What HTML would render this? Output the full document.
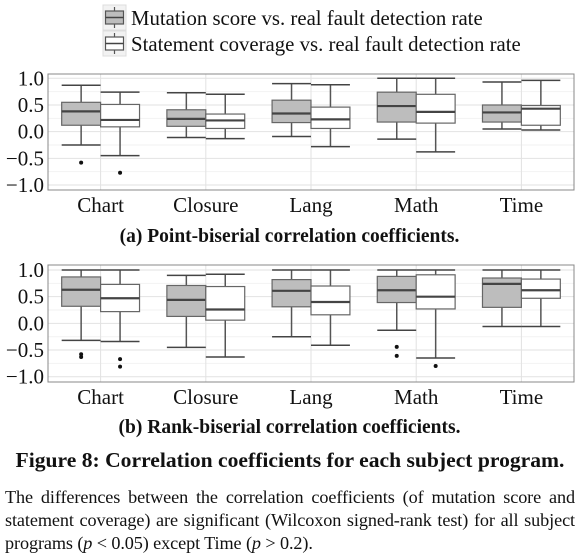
<!DOCTYPE html>
<html><head><meta charset="utf-8"><style>
body{margin:0;width:579px;height:548px;background:#fff;overflow:hidden;font-family:"Liberation Serif",serif;}
svg{position:absolute;left:0;top:0}
.para{position:absolute;left:5px;width:570px;font-size:18.2px;line-height:23px;text-align:justify;text-align-last:left;top:486px;color:#111;letter-spacing:-0.1px}
</style></head><body>
<svg id="chart" width="579" height="548"></svg>
<div class="para">The differences between the correlation coefficients (of mutation score and statement coverage) are significant (Wilcoxon signed-rank test) for all subject programs (<i>p</i> &lt; 0.05) except Time (<i>p</i> &gt; 0.2).</div>
<script>
const categories=["Chart","Closure","Lang","Math","Time"];
const yTicks=[-1,-0.5,0,0.5,1];
const yTickLabels=["\u22121.0","\u22120.5","0.0","0.5","1.0"];
// [lowerWhisker, q1, median, q3, upperWhisker]
const pointMut=[[-0.25,0.12,0.38,0.55,0.87],[-0.11,0.10,0.24,0.41,0.73],[-0.09,0.17,0.34,0.59,0.90],[-0.14,0.18,0.48,0.74,1.0],[0.05,0.18,0.36,0.50,0.93]];
const pointCov=[[-0.45,0.09,0.22,0.51,0.74],[-0.13,0.06,0.21,0.33,0.70],[-0.28,0.06,0.23,0.46,0.88],[-0.38,0.16,0.37,0.70,1.0],[0.03,0.12,0.43,0.49,0.96]];
const pointMutOut=[[-0.58],[],[],[],[]];
const pointCovOut=[[-0.77],[],[],[],[]];
const rankMut=[[-0.32,0.32,0.63,0.87,1.0],[-0.45,0.13,0.44,0.71,0.90],[-0.25,0.31,0.61,0.82,1.0],[-0.13,0.39,0.62,0.88,1.0],[-0.06,0.30,0.74,0.85,1.0]];
const rankCov=[[-0.34,0.22,0.47,0.73,1.0],[-0.63,0.06,0.26,0.69,0.92],[-0.41,0.16,0.40,0.70,1.0],[-0.65,0.27,0.50,0.91,1.0],[-0.06,0.47,0.62,0.83,1.0]];
const rankMutOut=[[-0.58,-0.63],[],[],[-0.44,-0.61],[]];
const rankCovOut=[[-0.67,-0.81],[],[],[-0.80],[]];

const svg=document.getElementById('chart');
const NS='http://www.w3.org/2000/svg';
function mk(tag,attrs,parent){const e=document.createElementNS(NS,tag);for(const k in attrs)e.setAttribute(k,attrs[k]);(parent||svg).appendChild(e);return e;}

function panel(name,top,bottom,y1,ym1,mut,cov,mutOut,covOut,labelY,caption,capY){
  const g=mk('g',{});
  
  
  const L=48,R=574;
  const y=v=>ym1+(v+1)/2*(y1-ym1);
  const bw=(R-L)/categories.length;
  const x=i=>L+bw*(i+0.5);
  [-0.75,-0.25,0.25,0.75].forEach(v=>mk('line',{x1:L,x2:R,y1:y(v),y2:y(v),stroke:'#f2f2f2','stroke-width':1},g));
  yTicks.forEach((v,i)=>{
    const gl=mk('line',{x1:L,x2:R,y1:y(v),y2:y(v),stroke:'#e2e2e2','stroke-width':1},g);
    
    const t=mk('text',{x:L-4,y:y(v)+7,'text-anchor':'end','font-size':21,fill:'#111'},g);
    t.textContent=yTickLabels[i];
    
    
  });
  categories.forEach((c,i)=>{
    mk('line',{x1:x(i),x2:x(i),y1:top,y2:bottom,stroke:'#e2e2e2','stroke-width':1},g);
    const t=mk('text',{x:x(i),y:labelY,'text-anchor':'middle','font-size':21,fill:'#111'},g);
    t.textContent=c;
    
    
  });
  const w=bw*0.37;
  function box(d,outs,cx,fill,nm){
    const b=mk('g',{},g);
    
    
    mk('line',{x1:cx,x2:cx,y1:y(d[0]),y2:y(d[4]),stroke:'#555','stroke-width':1.5},b);
    mk('line',{x1:cx-w/2,x2:cx+w/2,y1:y(d[0]),y2:y(d[0]),stroke:'#444','stroke-width':1.5},b);
    mk('line',{x1:cx-w/2,x2:cx+w/2,y1:y(d[4]),y2:y(d[4]),stroke:'#444','stroke-width':1.5},b);
    mk('rect',{x:cx-w/2,y:y(d[3]),width:w,height:y(d[1])-y(d[3]),fill:fill,stroke:'#666','stroke-width':1.2},b);
    mk('line',{x1:cx-w/2,x2:cx+w/2,y1:y(d[2]),y2:y(d[2]),stroke:'#444','stroke-width':2.2},b);
    outs.forEach(o=>mk('circle',{cx:cx,cy:y(o),r:2,fill:'#111'},b));
  }
  categories.forEach((c,i)=>{
    box(mut[i],mutOut[i],x(i)-w/2,'#bdbdbd','box-mutation-'+c.toLowerCase());
    box(cov[i],covOut[i],x(i)+w/2,'#fff','box-coverage-'+c.toLowerCase());
  });
  mk('rect',{x:L,y:top,width:R-L,height:bottom-top,fill:'none',stroke:'#888','stroke-width':1},g);
  const t=mk('text',{x:289.5,y:capY,'text-anchor':'middle','font-size':19.5,'font-weight':'bold',fill:'#111'});
  t.textContent=caption;
  
  
}
panel('point-biserial-panel',74,190,78.3,185,pointMut,pointCov,pointMutOut,pointCovOut,212,'(a) Point-biserial correlation coefficients.',242);
panel('rank-biserial-panel',265,382,270,376.7,rankMut,rankCov,rankMutOut,rankCovOut,404,'(b) Rank-biserial correlation coefficients.',433);

function legendEntry(yTop,fill,label,nm){
  const g=mk('g',{});
  
  
  mk('rect',{x:103,y:yTop,width:23,height:25,fill:'#f2f2f2',stroke:'#ddd'},g);
  mk('line',{x1:114.5,x2:114.5,y1:yTop+2,y2:yTop+23,stroke:'#555','stroke-width':1.2},g);
  mk('rect',{x:105.5,y:yTop+6,width:18,height:13,fill:fill,stroke:'#555','stroke-width':1.2},g);
  mk('line',{x1:105.5,x2:123.5,y1:yTop+12.5,y2:yTop+12.5,stroke:'#444','stroke-width':1.5},g);
  const t=mk('text',{x:131,y:yTop+20,'font-size':20.8,fill:'#111'},g);
  t.textContent=label;
}
legendEntry(5,'#bdbdbd','Mutation score vs. real fault detection rate','legend-entry-mutation');
legendEntry(31,'#fff','Statement coverage vs. real fault detection rate','legend-entry-coverage');

const fc=mk('text',{x:290,y:467,'text-anchor':'middle','font-size':21.6,'font-weight':'bold',fill:'#111'});
fc.textContent='Figure 8: Correlation coefficients for each subject program.';


</script>
</body></html>
